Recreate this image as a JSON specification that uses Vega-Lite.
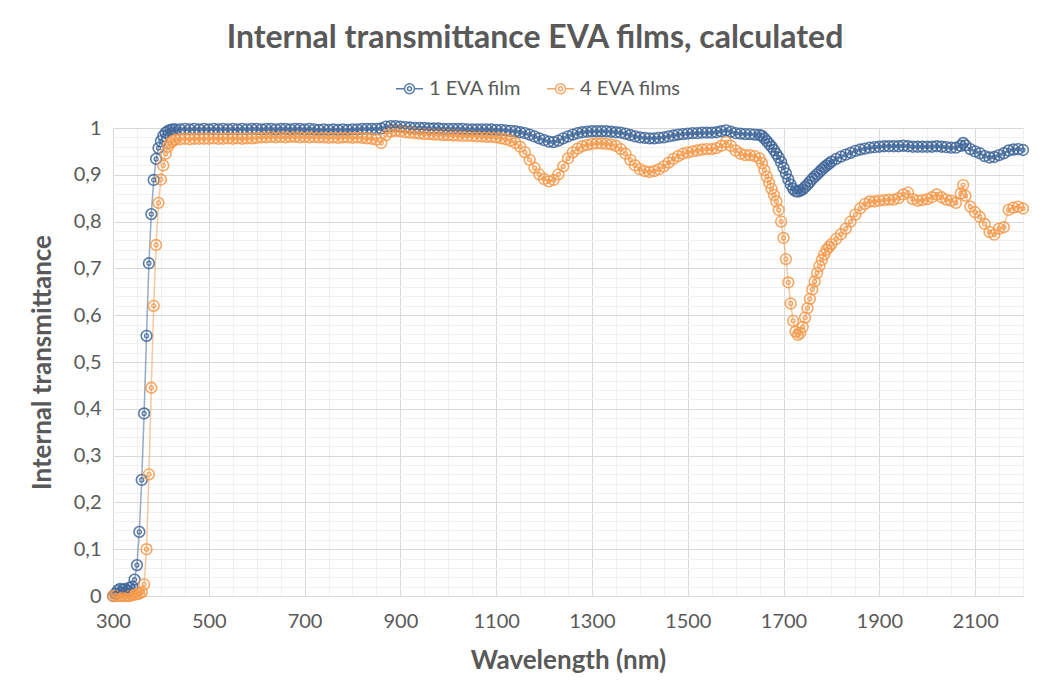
{
  "$schema": "https://vega.github.io/schema/vega-lite/v6.json",
  "width": 910,
  "height": 468,
  "autosize": {"type": "none"},
  "padding": {"left": 113, "top": 128, "right": 31, "bottom": 97},
  "background": "white",
  "title": {
    "text": "Internal transmittance EVA films, calculated",
    "font": "Lato",
    "fontSize": 32,
    "fontWeight": "bold",
    "color": "#595959",
    "anchor": "middle",
    "frame": "group",
    "dx": -33,
    "offset": 19
  },
  "data": {
    "values": [
      {"w":300,"a":0,"b":0},{"w":305,"a":0.005,"b":0},{"w":310,"a":0.012,"b":0},{"w":315,"a":0.015,"b":0},
      {"w":320,"a":0.013,"b":0},{"w":325,"a":0.015,"b":0},{"w":330,"a":0.012,"b":0},{"w":335,"a":0.018,"b":0},
      {"w":340,"a":0.02,"b":0.002},{"w":345,"a":0.035,"b":0.003},{"w":350,"a":0.066,"b":0.004},{"w":355,"a":0.137,"b":0.005},
      {"w":360,"a":0.248,"b":0.008},{"w":365,"a":0.39,"b":0.025},{"w":370,"a":0.556,"b":0.1},{"w":375,"a":0.711,"b":0.26},
      {"w":380,"a":0.816,"b":0.445},{"w":385,"a":0.889,"b":0.62},{"w":390,"a":0.934,"b":0.75},{"w":395,"a":0.957,"b":0.84},
      {"w":400,"a":0.972,"b":0.89},{"w":405,"a":0.983,"b":0.92},{"w":410,"a":0.99,"b":0.945},{"w":415,"a":0.994,"b":0.96},
      {"w":420,"a":0.996,"b":0.968},{"w":425,"a":0.997,"b":0.972},{"w":430,"a":0.997,"b":0.975},
      {"w":440,"a":0.997,"b":0.976},{"w":450,"a":0.998,"b":0.977},{"w":460,"a":0.997,"b":0.976},{"w":470,"a":0.998,"b":0.977},
      {"w":480,"a":0.997,"b":0.977},{"w":490,"a":0.998,"b":0.977},{"w":500,"a":0.997,"b":0.977},{"w":510,"a":0.998,"b":0.978},
      {"w":520,"a":0.997,"b":0.977},{"w":530,"a":0.998,"b":0.977},{"w":540,"a":0.997,"b":0.978},{"w":550,"a":0.998,"b":0.977},
      {"w":560,"a":0.997,"b":0.978},{"w":570,"a":0.998,"b":0.977},{"w":580,"a":0.997,"b":0.978},{"w":590,"a":0.998,"b":0.978},
      {"w":600,"a":0.998,"b":0.979},{"w":610,"a":0.997,"b":0.98},{"w":620,"a":0.998,"b":0.98},{"w":630,"a":0.998,"b":0.981},
      {"w":640,"a":0.997,"b":0.98},{"w":650,"a":0.998,"b":0.981},{"w":660,"a":0.998,"b":0.98},{"w":670,"a":0.997,"b":0.981},
      {"w":680,"a":0.998,"b":0.981},{"w":690,"a":0.998,"b":0.98},{"w":700,"a":0.997,"b":0.981},{"w":710,"a":0.998,"b":0.98},
      {"w":720,"a":0.997,"b":0.981},{"w":730,"a":0.996,"b":0.98},{"w":740,"a":0.997,"b":0.98},{"w":750,"a":0.996,"b":0.979},
      {"w":760,"a":0.997,"b":0.98},{"w":770,"a":0.996,"b":0.979},{"w":780,"a":0.997,"b":0.98},{"w":790,"a":0.996,"b":0.98},
      {"w":800,"a":0.997,"b":0.979},{"w":810,"a":0.997,"b":0.98},{"w":820,"a":0.998,"b":0.979},{"w":830,"a":0.998,"b":0.978},
      {"w":840,"a":0.998,"b":0.977},{"w":850,"a":0.998,"b":0.975},{"w":860,"a":0.999,"b":0.968},{"w":870,"a":1.003,"b":0.985},
      {"w":880,"a":1.004,"b":0.992},{"w":890,"a":1.004,"b":0.994},{"w":900,"a":1.003,"b":0.993},{"w":910,"a":1.002,"b":0.991},
      {"w":920,"a":1.001,"b":0.99},{"w":930,"a":1.0,"b":0.989},{"w":940,"a":1.0,"b":0.988},{"w":950,"a":1.0,"b":0.987},
      {"w":960,"a":0.999,"b":0.987},{"w":970,"a":0.999,"b":0.986},{"w":980,"a":0.999,"b":0.986},{"w":990,"a":0.998,"b":0.985},
      {"w":1000,"a":0.998,"b":0.985},{"w":1010,"a":0.998,"b":0.984},{"w":1020,"a":0.998,"b":0.984},{"w":1030,"a":0.998,"b":0.983},
      {"w":1040,"a":0.997,"b":0.983},{"w":1050,"a":0.997,"b":0.983},{"w":1060,"a":0.997,"b":0.982},{"w":1070,"a":0.997,"b":0.982},
      {"w":1080,"a":0.997,"b":0.981},{"w":1090,"a":0.997,"b":0.981},{"w":1100,"a":0.996,"b":0.98},{"w":1110,"a":0.996,"b":0.978},
      {"w":1120,"a":0.995,"b":0.976},{"w":1130,"a":0.994,"b":0.973},{"w":1140,"a":0.993,"b":0.968},{"w":1150,"a":0.991,"b":0.96},
      {"w":1160,"a":0.989,"b":0.948},{"w":1170,"a":0.986,"b":0.932},{"w":1180,"a":0.982,"b":0.915},{"w":1190,"a":0.978,"b":0.901},
      {"w":1200,"a":0.974,"b":0.891},{"w":1210,"a":0.971,"b":0.886},{"w":1220,"a":0.97,"b":0.889},{"w":1230,"a":0.973,"b":0.901},
      {"w":1240,"a":0.978,"b":0.918},{"w":1250,"a":0.982,"b":0.935},{"w":1260,"a":0.986,"b":0.948},{"w":1270,"a":0.989,"b":0.956},
      {"w":1280,"a":0.991,"b":0.961},{"w":1290,"a":0.992,"b":0.964},{"w":1300,"a":0.993,"b":0.966},{"w":1310,"a":0.993,"b":0.967},
      {"w":1320,"a":0.993,"b":0.967},{"w":1330,"a":0.993,"b":0.966},{"w":1340,"a":0.992,"b":0.965},{"w":1350,"a":0.991,"b":0.962},
      {"w":1360,"a":0.99,"b":0.955},{"w":1370,"a":0.988,"b":0.945},{"w":1380,"a":0.985,"b":0.932},{"w":1390,"a":0.982,"b":0.92},
      {"w":1400,"a":0.98,"b":0.912},{"w":1410,"a":0.979,"b":0.908},{"w":1420,"a":0.978,"b":0.906},{"w":1430,"a":0.978,"b":0.908},
      {"w":1440,"a":0.979,"b":0.912},{"w":1450,"a":0.98,"b":0.918},{"w":1460,"a":0.982,"b":0.926},{"w":1470,"a":0.984,"b":0.934},
      {"w":1480,"a":0.986,"b":0.94},{"w":1490,"a":0.987,"b":0.945},{"w":1500,"a":0.988,"b":0.948},{"w":1510,"a":0.989,"b":0.95},
      {"w":1520,"a":0.989,"b":0.952},{"w":1530,"a":0.99,"b":0.954},{"w":1540,"a":0.99,"b":0.955},{"w":1550,"a":0.99,"b":0.955},
      {"w":1560,"a":0.991,"b":0.957},{"w":1570,"a":0.993,"b":0.962},{"w":1580,"a":0.995,"b":0.97},{"w":1590,"a":0.992,"b":0.962},
      {"w":1600,"a":0.989,"b":0.952},{"w":1610,"a":0.988,"b":0.945},{"w":1620,"a":0.987,"b":0.942},{"w":1630,"a":0.987,"b":0.942},
      {"w":1640,"a":0.986,"b":0.94},{"w":1650,"a":0.985,"b":0.935},{"w":1655,"a":0.983,"b":0.925},{"w":1660,"a":0.978,"b":0.91},
      {"w":1665,"a":0.972,"b":0.896},{"w":1670,"a":0.966,"b":0.883},{"w":1675,"a":0.96,"b":0.87},{"w":1680,"a":0.953,"b":0.857},
      {"w":1685,"a":0.945,"b":0.843},{"w":1690,"a":0.937,"b":0.825},{"w":1695,"a":0.927,"b":0.8},{"w":1700,"a":0.915,"b":0.765},
      {"w":1705,"a":0.903,"b":0.72},{"w":1710,"a":0.89,"b":0.67},{"w":1715,"a":0.879,"b":0.625},{"w":1720,"a":0.87,"b":0.588},
      {"w":1725,"a":0.865,"b":0.565},{"w":1730,"a":0.864,"b":0.558},{"w":1735,"a":0.866,"b":0.562},{"w":1740,"a":0.869,"b":0.575},
      {"w":1745,"a":0.874,"b":0.595},{"w":1750,"a":0.879,"b":0.615},{"w":1755,"a":0.885,"b":0.635},{"w":1760,"a":0.891,"b":0.655},
      {"w":1765,"a":0.896,"b":0.672},{"w":1770,"a":0.901,"b":0.69},{"w":1775,"a":0.906,"b":0.705},{"w":1780,"a":0.911,"b":0.718},
      {"w":1785,"a":0.916,"b":0.73},{"w":1790,"a":0.92,"b":0.74},{"w":1795,"a":0.924,"b":0.746},{"w":1800,"a":0.928,"b":0.752},
      {"w":1810,"a":0.934,"b":0.763},{"w":1820,"a":0.939,"b":0.773},{"w":1830,"a":0.943,"b":0.785},{"w":1840,"a":0.947,"b":0.8},
      {"w":1850,"a":0.951,"b":0.815},{"w":1860,"a":0.954,"b":0.828},{"w":1870,"a":0.956,"b":0.838},{"w":1880,"a":0.958,"b":0.843},
      {"w":1890,"a":0.959,"b":0.843},{"w":1900,"a":0.96,"b":0.845},{"w":1910,"a":0.961,"b":0.846},{"w":1920,"a":0.961,"b":0.847},
      {"w":1930,"a":0.961,"b":0.847},{"w":1940,"a":0.961,"b":0.85},{"w":1950,"a":0.962,"b":0.858},{"w":1960,"a":0.961,"b":0.862},
      {"w":1970,"a":0.96,"b":0.848},{"w":1980,"a":0.96,"b":0.845},{"w":1990,"a":0.96,"b":0.846},{"w":2000,"a":0.96,"b":0.848},
      {"w":2010,"a":0.96,"b":0.852},{"w":2020,"a":0.961,"b":0.858},{"w":2030,"a":0.96,"b":0.852},{"w":2040,"a":0.959,"b":0.847},
      {"w":2050,"a":0.958,"b":0.845},{"w":2060,"a":0.958,"b":0.84},{"w":2070,"a":0.962,"b":0.86},{"w":2075,"a":0.968,"b":0.878},
      {"w":2080,"a":0.963,"b":0.855},{"w":2090,"a":0.955,"b":0.832},{"w":2100,"a":0.95,"b":0.82},{"w":2110,"a":0.946,"b":0.81},
      {"w":2120,"a":0.94,"b":0.795},{"w":2130,"a":0.937,"b":0.778},{"w":2140,"a":0.938,"b":0.772},{"w":2150,"a":0.942,"b":0.785},
      {"w":2160,"a":0.946,"b":0.788},{"w":2170,"a":0.952,"b":0.825},{"w":2180,"a":0.954,"b":0.83},{"w":2190,"a":0.955,"b":0.832},
      {"w":2200,"a":0.953,"b":0.828}
    ]
  },
  "transform": [{"fold": ["a", "b"], "as": ["series", "t"]}],
  "encoding": {
    "x": {
      "field": "w",
      "type": "quantitative",
      "scale": {"domain": [300, 2200], "nice": false, "zero": false},
      "axis": {
        "title": "Wavelength (nm)",
        "values": [300,350,400,450,500,550,600,650,700,750,800,850,900,950,1000,1050,1100,1150,1200,1250,1300,1350,1400,1450,1500,1550,1600,1650,1700,1750,1800,1850,1900,1950,2000,2050,2100,2150,2200],
        "labelExpr": "datum.value % 200 === 100 ? datum.label : ''",
        "gridColor": {"condition": {"test": "datum.value % 200 === 100", "value": "#D9D9D9"}, "value": "#F0F0F0"},
        "labelFlush": false,
        "labelOverlap": false,
        "format": "d"
      }
    },
    "y": {
      "field": "t",
      "type": "quantitative",
      "scale": {"domain": [0, 1], "nice": false},
      "axis": {
        "title": "Internal transmittance",
        "values": [0,0.02,0.04,0.06,0.08,0.1,0.12,0.14,0.16,0.18,0.2,0.22,0.24,0.26,0.28,0.3,0.32,0.34,0.36,0.38,0.4,0.42,0.44,0.46,0.48,0.5,0.52,0.54,0.56,0.58,0.6,0.62,0.64,0.66,0.68,0.7,0.72,0.74,0.76,0.78,0.8,0.82,0.84,0.86,0.88,0.9,0.92,0.94,0.96,0.98,1],
        "labelExpr": "abs(datum.value*10 - round(datum.value*10)) < 0.001 ? replace(format(datum.value, '.1~f'), '.', ',') : ''",
        "gridColor": {"condition": {"test": "abs(datum.value*10 - round(datum.value*10)) < 0.001", "value": "#D9D9D9"}, "value": "#F0F0F0"},
        "labelOverlap": false,
        "labelFlush": false,
        "domain": false
      }
    },
    "color": {
      "field": "series",
      "type": "nominal",
      "scale": {"domain": ["a", "b"], "range": ["#3F6699", "#F59A4C"]},
      "legend": {
        "orient": "none",
        "legendX": 282,
        "legendY": -54,
        "direction": "horizontal",
        "title": null,
        "labelExpr": "datum.label == 'a' ? '1 EVA film' : '4 EVA films'",
        "symbolType": "M-1,0L-0.37,0M0.37,0L1,0M0.37,0A0.37,0.37,0,1,1,-0.37,0A0.37,0.37,0,1,1,0.37,0M0.15,0A0.15,0.15,0,1,1,-0.15,0A0.15,0.15,0,1,1,0.15,0",
        "symbolSize": 729,
        "symbolStrokeWidth": 1.5,
        "symbolFillColor": "transparent",
        "labelFont": "Lato",
        "labelFontSize": 20,
        "labelColor": "#595959",
        "labelOffset": 5,
        "columnPadding": 22,
        "padding": 0
      }
    }
  },
  "layer": [
    {"mark": {"type": "line", "strokeWidth": 1.5, "strokeOpacity": 0.55, "clip": false}},
    {"mark": {"type": "point", "filled": false, "size": 115, "strokeWidth": 1.6, "opacity": 0.85},
     "encoding": {"order": {"field": "series"}}},
    {"mark": {"type": "point", "filled": false, "size": 16, "strokeWidth": 1.3, "opacity": 0.85},
     "encoding": {"order": {"field": "series"}}}
  ],
  "config": {
    "view": {"stroke": null},
    "font": "Lato",
    "axis": {
      "labelFont": "Lato",
      "labelFontSize": 20,
      "labelColor": "#595959",
      "titleFont": "Lato",
      "titleFontSize": 26,
      "titleFontWeight": "bold",
      "titleColor": "#595959",
      "ticks": false,
      "domainColor": "#D9D9D9",
      "grid": true,
      "gridWidth": 1
    },
    "axisX": {"labelPadding": 15, "titlePadding": 16},
    "axisY": {"labelPadding": 12, "titlePadding": 18}
  }
}
